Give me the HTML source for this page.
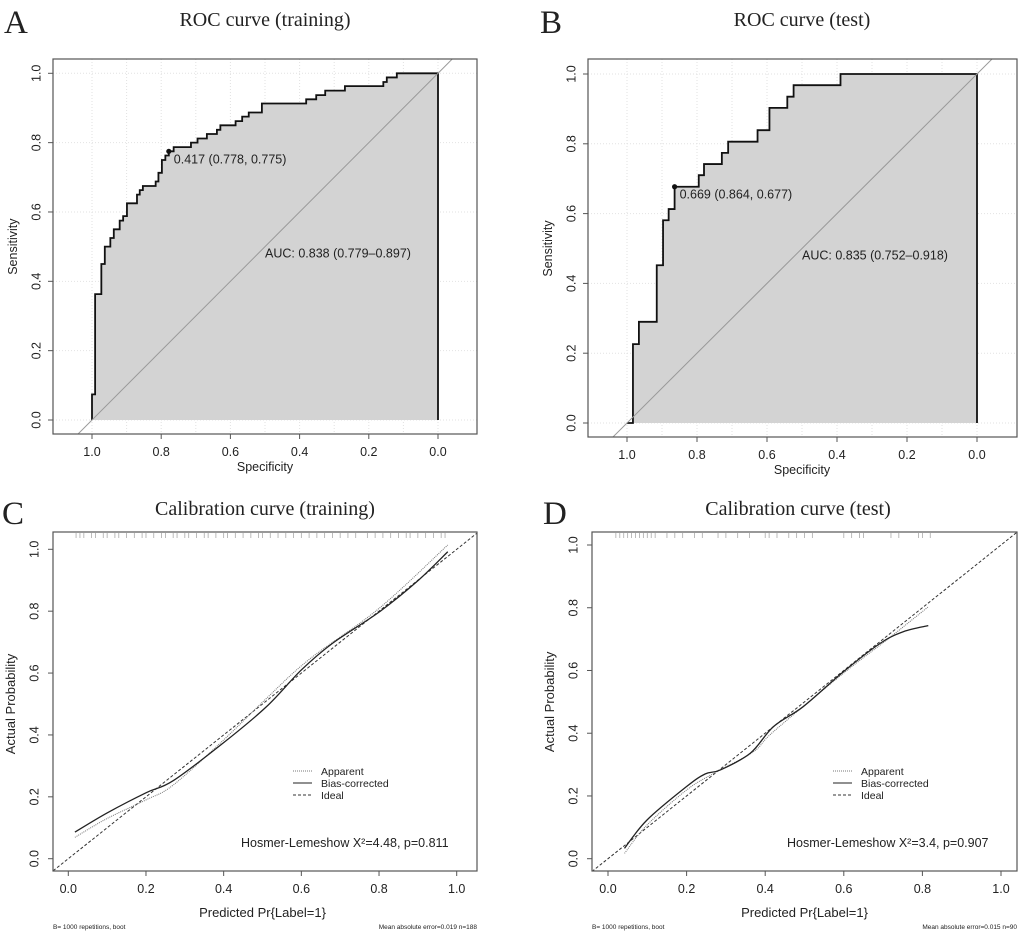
<!DOCTYPE html>
<html><head><meta charset="utf-8"><style>
html,body{margin:0;padding:0;background:#fff}
svg{display:block}
text{font-family:"Liberation Sans",sans-serif;fill:#222}
.serif{font-family:"Liberation Serif",serif}
</style></head><body>
<svg id="fig" width="1022" height="937" viewBox="0 0 1022 937" xmlns="http://www.w3.org/2000/svg"></svg>
<script>
// ROC training data (specificity / sensitivity staircase)
const rocTrainSpec = [1,0.991,0.973,0.963,0.947,0.937,0.920,0.910,0.899,0.870,0.862,0.853,0.816,0.808,0.798,0.788,0.778,0.764,0.714,0.695,0.668,0.639,0.629,0.585,0.566,0.547,0.509,0.381,0.352,0.326,0.269,0.158,0.148,0.119,0];
const rocTrainSens = [0.074,0.363,0.450,0.500,0.525,0.550,0.575,0.588,0.625,0.650,0.663,0.675,0.688,0.713,0.750,0.763,0.775,0.787,0.800,0.812,0.825,0.837,0.850,0.862,0.875,0.887,0.913,0.925,0.937,0.950,0.963,0.975,0.988,1.0,1.0];
const rocTrainBest = [0.778,0.775];
// ROC test data
const rocTestSpec = [0.983,0.966,0.915,0.897,0.881,0.864,0.795,0.780,0.729,0.711,0.627,0.593,0.542,0.524,0.390,0];
const rocTestSens = [0.226,0.290,0.452,0.581,0.613,0.677,0.710,0.742,0.774,0.806,0.839,0.903,0.935,0.968,1,1];
const rocTestBest = [0.864,0.677];
// Calibration training
const calTrainBiasX = [0.017,0.1,0.2,0.27,0.4,0.51,0.6,0.68,0.8,0.897,0.977];
const calTrainBiasY = [0.086,0.148,0.213,0.252,0.375,0.491,0.61,0.696,0.797,0.895,0.992];
const calTrainAppX = [0.017,0.1,0.2,0.27,0.4,0.51,0.62,0.8,0.977];
const calTrainAppY = [0.069,0.13,0.19,0.238,0.384,0.518,0.644,0.809,1.014];
const calTrainRug = [0.02,0.03,0.04,0.06,0.07,0.09,0.1,0.12,0.13,0.15,0.17,0.19,0.2,0.22,0.24,0.25,0.27,0.28,0.3,0.31,0.33,0.35,0.36,0.38,0.4,0.41,0.43,0.45,0.47,0.49,0.5,0.52,0.54,0.56,0.58,0.6,0.62,0.64,0.66,0.68,0.7,0.72,0.74,0.77,0.79,0.81,0.83,0.85,0.87,0.88,0.9,0.92,0.94,0.96,0.97];
// Calibration test
const calTestBiasX = [0.042,0.099,0.2,0.247,0.286,0.362,0.421,0.497,0.599,0.692,0.752,0.815];
const calTestBiasY = [0.033,0.123,0.23,0.27,0.283,0.336,0.421,0.485,0.596,0.686,0.724,0.743];
const calTestAppX = [0.042,0.099,0.2,0.269,0.37,0.421,0.599,0.709,0.815];
const calTestAppY = [0.017,0.107,0.219,0.272,0.341,0.405,0.591,0.697,0.803];
const calTestRug = [0.02,0.03,0.04,0.05,0.06,0.07,0.08,0.09,0.1,0.11,0.12,0.15,0.17,0.19,0.22,0.24,0.28,0.3,0.33,0.36,0.4,0.41,0.43,0.46,0.48,0.5,0.52,0.6,0.62,0.64,0.65,0.72,0.74,0.79,0.8,0.82];
const ticks = [0,0.2,0.4,0.6,0.8,1.0];
const tickLabels = ["0.0","0.2","0.4","0.6","0.8","1.0"];

const NS = "http://www.w3.org/2000/svg";
const svg = document.getElementById('fig');
function el(tag, attrs, parent, txt){
  const e = document.createElementNS(NS, tag);
  for (const k in attrs) e.setAttribute(k, attrs[k]);
  if (txt !== undefined) e.textContent = txt;
  (parent||svg).appendChild(e);
  return e;
}
function txt(x,y,s,size,parent,opts){
  const t = el('text', Object.assign({x:x,y:y,'font-size':size,'text-anchor':'middle'}, opts||{}), parent, s);
  return t;
}

function rocPanel(cfg){
  const g = el('g', {});
  
  
  const X = v => cfg.x1 + (1 - v) * (cfg.x0 - cfg.x1); // spec 1 -> x1
  const Y = v => cfg.y0 - v * (cfg.y0 - cfg.y1);
  const letter = txt(cfg.letterX, 33, cfg.letter, 33, g, {'text-anchor':'start','class':'serif'});
  
  
  const title = txt((X(1)+X(0))/2, 26, cfg.title, 20, g, {'class':'serif'});
  
  
  // grid
  for (let i=0;i<=10;i++){
    const gx = el('line',{x1:X(i/10),x2:X(i/10),y1:cfg.bt,y2:cfg.bb,stroke:'#e2e2e2','stroke-dasharray':'1,2'},g);
    
    
  }
  ticks.forEach(t=>{
    const gy = el('line',{x1:cfg.bl,x2:cfg.br,y1:Y(t),y2:Y(t),stroke:'#e2e2e2','stroke-dasharray':'1,2'},g);
    
    
  });
  // area + curve
  let d = `M${X(1)},${Y(0)}`;
  for (let i=0;i<cfg.spec.length;i++){
    const prev = i===0 ? 0 : cfg.sens[i-1];
    d += ` L${X(cfg.spec[i])},${Y(prev)} L${X(cfg.spec[i])},${Y(cfg.sens[i])}`;
  }
  const area = el('path',{d:d+` L${X(0)},${Y(0)} Z`,fill:'#d3d3d3',stroke:'none'},g);
  
  
  const curve = el('path',{d:d+` L${X(0)},${Y(0)}`,fill:'none',stroke:'#111','stroke-width':1.8},g);
  
  
  // diagonal clipped to box
  const clipId = 'clip'+cfg.letter;
  const cp = el('clipPath',{id:clipId},g);
  el('rect',{x:cfg.bl,y:cfg.bt,width:cfg.br-cfg.bl,height:cfg.bb-cfg.bt},cp);
  const ext = 0.2;
  const diag = el('line',{x1:X(1+ext),y1:Y(-ext),x2:X(-ext),y2:Y(1+ext),stroke:'#999','stroke-width':1,'clip-path':`url(#${clipId})`},g);
  
  
  // box
  const box = el('rect',{x:cfg.bl,y:cfg.bt,width:cfg.br-cfg.bl,height:cfg.bb-cfg.bt,fill:'none',stroke:'#555','stroke-width':1.2},g);
  
  
  // ticks
  ticks.forEach((t,i)=>{
    el('line',{x1:X(t),x2:X(t),y1:cfg.bb,y2:cfg.bb+5,stroke:'#555'},g);
    const xl = txt(X(t), cfg.bb+22, tickLabels[i], 12.5, g, {fill:'#333'});
    
    
    el('line',{x1:cfg.bl-5,x2:cfg.bl,y1:Y(t),y2:Y(t),stroke:'#555'},g);
    const yl = txt(cfg.bl-16, Y(t), tickLabels[i], 12.5, g, {fill:'#333',transform:`rotate(-90 ${cfg.bl-16} ${Y(t)})`,'dominant-baseline':'middle'});
    
    
  });
  const xt = txt((X(1)+X(0))/2, cfg.bb+37, 'Specificity', 12.5, g);
  
  
  const yx = cfg.bl-36, yy = (Y(0)+Y(1))/2;
  const yt = txt(yx, yy, 'Sensitivity', 12.5, g, {transform:`rotate(-90 ${yx} ${yy})`});
  
  
  // best threshold
  const pt = el('circle',{cx:X(cfg.best[0]),cy:Y(cfg.best[1]),r:2.6,fill:'#111'},g);
  
  
  const pl = txt(X(cfg.best[0])+5, Y(cfg.best[1])+12, cfg.bestLabel, 12.5, g, {'text-anchor':'start'});
  
  
  const al = txt(X(0.5), Y(0.48)+4, cfg.auc, 12.5, g, {'text-anchor':'start'});
  
  
}

function curvePath(xs, ys, X, Y){
  const p = xs.map((x,i)=>[X(x),Y(ys[i])]);
  let d = `M${p[0][0]},${p[0][1]}`;
  for (let i=0;i<p.length-1;i++){
    const p0 = p[i-1]||p[i], p1=p[i], p2=p[i+1], p3=p[i+2]||p2;
    const c1x = p1[0]+(p2[0]-p0[0])/6, c1y = p1[1]+(p2[1]-p0[1])/6;
    const c2x = p2[0]-(p3[0]-p1[0])/6, c2y = p2[1]-(p3[1]-p1[1])/6;
    d += ` C${c1x},${c1y} ${c2x},${c2y} ${p2[0]},${p2[1]}`;
  }
  return d;
}

function calPanel(cfg){
  const g = el('g', {});
  
  
  const X = v => cfg.x0 + v*(cfg.x1-cfg.x0);
  const Y = v => cfg.y0 - v*(cfg.y0-cfg.y1);
  const letter = txt(cfg.letterX, 524, cfg.letter, 33, g, {'text-anchor':'start','class':'serif'});
  
  
  const title = txt(cfg.titleX, 515, cfg.title, 20, g, {'class':'serif'});
  
  
  const clipId = 'clip'+cfg.letter;
  const cp = el('clipPath',{id:clipId},g);
  el('rect',{x:cfg.bl,y:cfg.bt,width:cfg.br-cfg.bl,height:cfg.bb-cfg.bt},cp);
  // rug
  cfg.rug.forEach(r=>{
    const rl = el('line',{x1:X(r),x2:X(r),y1:cfg.bt+1,y2:cfg.bt+6,stroke:'#aaa','stroke-width':0.8},g);
    
    
  });
  const ideal = el('line',{x1:X(-0.2),y1:Y(-0.2),x2:X(1.2),y2:Y(1.2),stroke:'#333','stroke-width':1,'stroke-dasharray':'3,2','clip-path':`url(#${clipId})`},g);
  
  
  const app = el('path',{d:curvePath(cfg.appX,cfg.appY,X,Y),fill:'none',stroke:'#777','stroke-width':1,'stroke-dasharray':'1,1'},g);
  
  
  const bias = el('path',{d:curvePath(cfg.biasX,cfg.biasY,X,Y),fill:'none',stroke:'#222','stroke-width':1.3},g);
  
  
  const box = el('rect',{x:cfg.bl,y:cfg.bt,width:cfg.br-cfg.bl,height:cfg.bb-cfg.bt,fill:'none',stroke:'#555','stroke-width':1.2},g);
  
  
  ticks.forEach((t,i)=>{
    el('line',{x1:X(t),x2:X(t),y1:cfg.bb,y2:cfg.bb+5,stroke:'#555'},g);
    const xl = txt(X(t), cfg.bb+22, tickLabels[i], 12.5, g, {fill:'#333'});
    
    
    el('line',{x1:cfg.bl-5,x2:cfg.bl,y1:Y(t),y2:Y(t),stroke:'#555'},g);
    const yx = cfg.bl-18;
    const yl = txt(yx, Y(t), tickLabels[i], 12.5, g, {fill:'#333',transform:`rotate(-90 ${yx} ${Y(t)})`,'dominant-baseline':'middle'});
    
    
  });
  const xt = txt((X(0)+X(1))/2, 917, 'Predicted Pr{Label=1}', 13, g);
  
  
  const ax = cfg.bl-38, ay = (Y(0)+Y(1))/2;
  const yt = txt(ax, ay, 'Actual Probability', 13, g, {transform:`rotate(-90 ${ax} ${ay})`});
  
  
  // legend
  const lg = el('g',{},g);
  
  
  const items = [['Apparent','1,1','#777'],['Bias-corrected','none','#222'],['Ideal','3,2','#333']];
  items.forEach((it,i)=>{
    const yy = 771 + i*12;
    el('line',{x1:cfg.legX,x2:cfg.legX+19,y1:yy,y2:yy,stroke:it[2],'stroke-dasharray':it[1]},lg);
    const lt = txt(cfg.legX+28, yy+4, it[0], 10.5, lg, {'text-anchor':'start'});
    
    
  });
  const hl = txt(cfg.hlX, 847, cfg.hl, 12.5, g, {'text-anchor':'start'});
  
  
  const f1 = txt(cfg.bl, 929, 'B= 1000 repetitions, boot', 6.5, g, {'text-anchor':'start'});
  
  
  const f2 = txt(cfg.br, 929, cfg.mae, 6.5, g, {'text-anchor':'end'});
  
  
}

rocPanel({name:'roc-training-panel',letter:'A',letterX:4,title:'ROC curve (training)',x1:92,x0:438,y0:420,y1:73.3,bl:53,br:477,bt:59,bb:434,
  spec:rocTrainSpec,sens:rocTrainSens,best:rocTrainBest,bestLabel:'0.417 (0.778, 0.775)',auc:'AUC: 0.838 (0.779\u20130.897)'});
rocPanel({name:'roc-test-panel',letter:'B',letterX:540,title:'ROC curve (test)',x1:627,x0:977,y0:423,y1:74,bl:588,br:1017,bt:59,bb:437,
  spec:rocTestSpec,sens:rocTestSens,best:rocTestBest,bestLabel:'0.669 (0.864, 0.677)',auc:'AUC: 0.835 (0.752\u20130.918)'});
calPanel({name:'calibration-training-panel',letter:'C',letterX:2,title:'Calibration curve (training)',titleX:265,x0:68.3,x1:456.7,y0:858.7,y1:549.3,bl:53,br:477,bt:532,bb:871,
  biasX:calTrainBiasX,biasY:calTrainBiasY,appX:calTrainAppX,appY:calTrainAppY,rug:calTrainRug,legX:293,hlX:241,
  hl:'Hosmer-Lemeshow X\u00b2=4.48, p=0.811',mae:'Mean absolute error=0.019 n=188'});
calPanel({name:'calibration-test-panel',letter:'D',letterX:543,title:'Calibration curve (test)',titleX:798,x0:608,x1:1001,y0:858.7,y1:545,bl:592,br:1017,bt:532,bb:871,
  biasX:calTestBiasX,biasY:calTestBiasY,appX:calTestAppX,appY:calTestAppY,rug:calTestRug,legX:833,hlX:787,
  hl:'Hosmer-Lemeshow X\u00b2=3.4, p=0.907',mae:'Mean absolute error=0.015 n=90'});
</script>
</body></html>
